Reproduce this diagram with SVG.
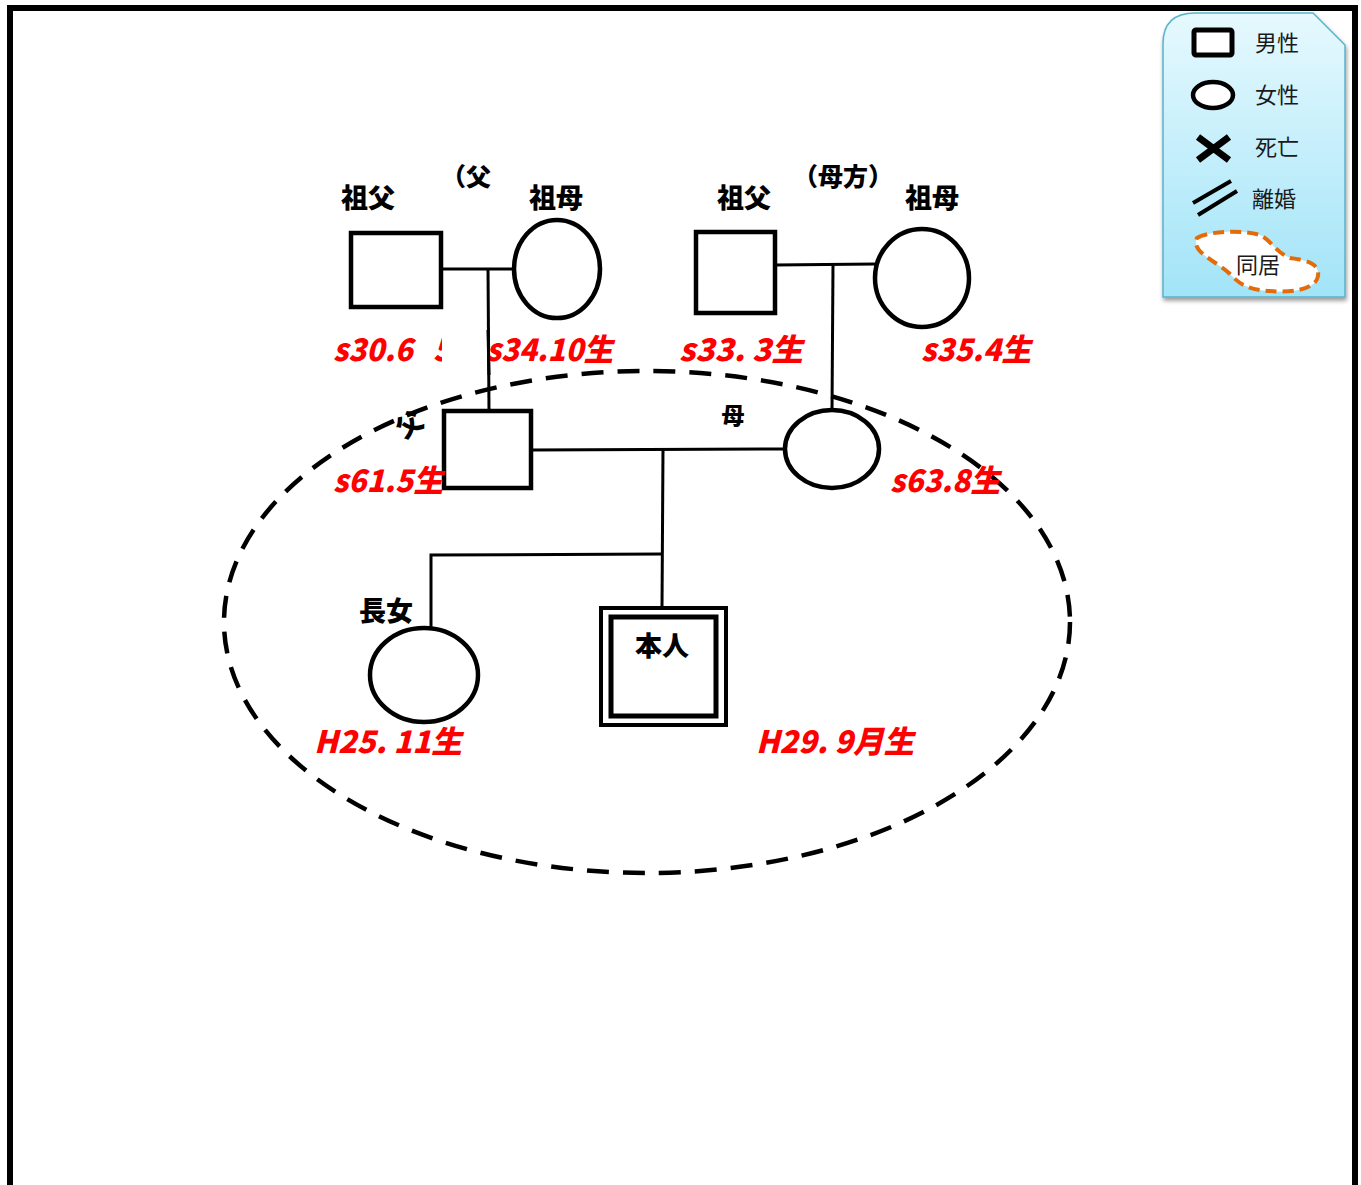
<svg xmlns="http://www.w3.org/2000/svg" width="1361" height="1185" viewBox="0 0 1361 1185">
  <defs>
    <style>
      .shape { fill: #fff; stroke: #000; stroke-width: 4.5; }
      .line { fill: none; stroke: #000; stroke-width: 3; }
      .lbl { font-family: "Noto Sans CJK JP", "Noto Sans", sans-serif; font-weight: 900; fill: #000; }
      .red { font-family: "Noto Sans CJK JP", "Noto Sans", sans-serif; font-weight: 900; font-style: italic; fill: #ff0000; font-size: 31px; }
      .leg { font-family: "Noto Sans CJK JP", "Noto Sans", sans-serif; font-size: 22px; fill: #1a1a1a; }
    </style>
    <linearGradient id="legGrad" x1="0" y1="0" x2="0" y2="1">
      <stop offset="0" stop-color="#e6f9fe"/>
      <stop offset="1" stop-color="#a2e4f8"/>
    </linearGradient>
    <filter id="shadow" x="-10%" y="-10%" width="130%" height="130%">
      <feGaussianBlur in="SourceAlpha" stdDeviation="2"/>
      <feOffset dx="1" dy="3" result="b"/>
      <feComponentTransfer><feFuncA type="linear" slope="0.4"/></feComponentTransfer>
      <feMerge><feMergeNode/><feMergeNode in="SourceGraphic"/></feMerge>
    </filter>
    <clipPath id="clip3006"><rect x="300" y="320" width="142" height="60"/></clipPath>
  </defs>

  <rect width="1361" height="1185" fill="#fff"/>
  <!-- page border (open at bottom) -->
  <path d="M10,1185 L10,8 L1355,8 L1355,1185" fill="none" stroke="#000" stroke-width="6"/>

  <!-- cohabitation dashed ellipse -->
  <g id="cohabit">
    <ellipse cx="647" cy="622" rx="423" ry="251" fill="none" stroke="#000" stroke-width="4.5" stroke-dasharray="22 14"/>
  </g>

  <!-- connectors -->
  <g id="connectors">
    <line class="line" x1="441" y1="269" x2="514" y2="269"/>
    <line class="line" x1="488" y1="268" x2="489" y2="411"/>
    <line class="line" x1="775" y1="265" x2="876" y2="264"/>
    <line class="line" x1="833" y1="265" x2="832" y2="410"/>
    <line class="line" x1="531" y1="450" x2="785" y2="449"/>
    <line class="line" x1="663" y1="449" x2="662" y2="608"/>
    <polyline class="line" points="662,554 431,555 431,628"/>
  </g>

  <!-- paternal grandparents -->
  <g id="pgf">
    <rect class="shape" x="351" y="233" width="90" height="74"/>
    <text class="lbl" x="368" y="208" font-size="27" text-anchor="middle">祖父</text>
  </g>
  <g id="pgm">
    <ellipse class="shape" cx="557" cy="269" rx="43" ry="49"/>
    <text class="lbl" x="556" y="208" font-size="27" text-anchor="middle">祖母</text>
  </g>
  <text class="lbl" x="441" y="186" font-size="25">（父</text>

  <!-- maternal grandparents -->
  <g id="mgf">
    <rect class="shape" x="696" y="232" width="79" height="81"/>
    <text class="lbl" x="744" y="208" font-size="27" text-anchor="middle">祖父</text>
  </g>
  <g id="mgm">
    <ellipse class="shape" cx="922" cy="278" rx="47" ry="49"/>
    <text class="lbl" x="932" y="208" font-size="27" text-anchor="middle">祖母</text>
  </g>
  <text class="lbl" x="843" y="186" font-size="25" text-anchor="middle">（母方）</text>

  <!-- parents -->
  <g id="father">
    <rect class="shape" x="444" y="411" width="87" height="77"/>
    <text class="lbl" x="0" y="0" font-size="26" text-anchor="middle" transform="translate(415,432) rotate(-35)">父</text>
  </g>
  <g id="mother">
    <ellipse class="shape" cx="832" cy="449" rx="47" ry="39"/>
    <text class="lbl" x="733" y="424" font-size="23" text-anchor="middle">母</text>
  </g>

  <!-- children -->
  <g id="daughter">
    <ellipse class="shape" cx="424" cy="675" rx="54" ry="47"/>
    <text class="lbl" x="386" y="621" font-size="27" text-anchor="middle">長女</text>
  </g>
  <g id="self">
    <rect x="601" y="608" width="125" height="117" fill="#fff" stroke="#000" stroke-width="4"/>
    <rect x="611" y="617" width="105" height="99" fill="none" stroke="#000" stroke-width="5"/>
    <text class="lbl" x="662" y="656" font-size="27" text-anchor="middle">本人</text>
  </g>

  <!-- birth dates -->
  <g id="dates">
    <text class="red" x="333" y="361" textLength="80" lengthAdjust="spacingAndGlyphs">s30.6</text>
    <text class="red" x="433" y="361" clip-path="url(#clip3006)">5生</text>
    <text class="red" x="486" y="361" textLength="127" lengthAdjust="spacingAndGlyphs">s34.10生</text>
    <text class="red" x="679" y="361" textLength="124" lengthAdjust="spacingAndGlyphs">s33. 3生</text>
    <text class="red" x="921" y="361" textLength="110" lengthAdjust="spacingAndGlyphs">s35.4生</text>
    <text class="red" x="333" y="492" textLength="110" lengthAdjust="spacingAndGlyphs">s61.5生</text>
    <text class="red" x="890" y="492" textLength="110" lengthAdjust="spacingAndGlyphs">s63.8生</text>
    <text class="red" x="314" y="753" textLength="148" lengthAdjust="spacingAndGlyphs">H25. 11生</text>
    <text class="red" x="756" y="753" textLength="158" lengthAdjust="spacingAndGlyphs">H29. 9月生</text>
  </g>
  <!-- line over s34 text -->
  <line class="line" x1="488" y1="330" x2="489" y2="375"/>

  <!-- legend -->
  <g id="legend">
    <path d="M1163,297 L1163,44 Q1163,13 1195,13 L1313,13 L1345,45 L1345,297 Z" fill="url(#legGrad)" stroke="#5ab3cc" stroke-width="1.5" filter="url(#shadow)"/>
    <rect x="1194" y="30" width="38" height="25" rx="2" fill="#fff" stroke="#000" stroke-width="5"/>
    <text class="leg" x="1255" y="51">男性</text>
    <ellipse cx="1213" cy="95" rx="20" ry="13" fill="#fff" stroke="#000" stroke-width="4.5"/>
    <text class="leg" x="1255" y="103">女性</text>
    <path d="M1198,137 L1229,160 M1229,137 L1198,160" stroke="#000" stroke-width="7" fill="none"/>
    <text class="leg" x="1255" y="155">死亡</text>
    <path d="M1193,203 L1231,181 M1198,215 L1237,191" stroke="#000" stroke-width="4" fill="none"/>
    <text class="leg" x="1252" y="207">離婚</text>
    <path d="M1197,238 C1210,230 1250,230 1262,236 C1272,242 1276,252 1290,258 C1305,260 1320,263 1318,276 C1316,290 1290,293 1270,291 C1250,290 1240,285 1230,274 C1218,262 1190,252 1197,238 Z" fill="#fff" stroke="#e36c0a" stroke-width="4" stroke-dasharray="11 6"/>
    <text class="leg" x="1236" y="273">同居</text>
  </g>
</svg>
